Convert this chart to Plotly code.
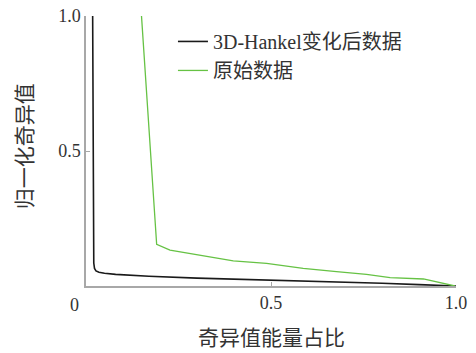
import plotly.graph_objects as go

# Normalized singular value curves against cumulative energy ratio
hankel_x = [0.018, 0.019, 0.020, 0.021, 0.023, 0.027, 0.035, 0.05, 0.08, 0.17, 0.30, 0.50, 0.70, 0.80, 0.90, 1.00]
hankel_y = [1.000, 0.500, 0.150, 0.085, 0.065, 0.056, 0.051, 0.047, 0.043, 0.036, 0.029, 0.022, 0.014, 0.010, 0.005, 0.000]

raw_x = [0.150, 0.191, 0.227, 0.335, 0.398, 0.488, 0.587, 0.677, 0.758, 0.822, 0.912, 0.997]
raw_y = [1.000, 0.154, 0.133, 0.106, 0.093, 0.084, 0.065, 0.053, 0.043, 0.031, 0.026, 0.000]

x_ticks = [0.5, 1.0]
x_tick_text = ["0.5", "1.0"]
y_ticks = [0.5, 1.0]
y_tick_text = ["0.5", "1.0"]

LATIN = "Liberation Serif"
FONT = "Liberation Serif, Noto Sans CJK SC"
AXIS_GRAY = "#a8a8a8"
TEXT = "#333333"

fig = go.Figure()
fig.add_trace(go.Scatter(x=hankel_x, y=hankel_y, mode="lines",
                         name="3D-Hankel变化后数据",
                         line=dict(color="#1a1a1a", width=1.6)))
fig.add_trace(go.Scatter(x=raw_x, y=raw_y, mode="lines",
                         name="原始数据",
                         line=dict(color="#66c244", width=1.3)))

axis_common = dict(range=[0, 1], showgrid=False, zeroline=False, showline=True,
                   linecolor=AXIS_GRAY, linewidth=1.5,
                   ticks="inside", ticklen=4, tickcolor=AXIS_GRAY,
                   tickfont=dict(family=LATIN, size=18, color=TEXT),
                   automargin=False)

fig.update_layout(
    width=476, height=353,
    margin=dict(l=86, r=20, t=16, b=67),
    plot_bgcolor="white", paper_bgcolor="white",
    font=dict(family=FONT, color=TEXT, size=17),
    showlegend=True,
    legend=dict(x=0.235, y=0.978, xanchor="left", yanchor="top",
                bgcolor="rgba(0,0,0,0)", font=dict(size=20, family=FONT),
                itemwidth=30),
    xaxis=dict(tickvals=x_ticks, ticktext=x_tick_text, **axis_common),
    yaxis=dict(tickvals=y_ticks, ticktext=y_tick_text, **axis_common),
)

# axis titles
fig.add_annotation(x=0.5, y=0, xref="paper", yref="paper", text="奇异值能量占比",
                   showarrow=False, xanchor="center", yanchor="middle", yshift=-52,
                   font=dict(size=21, family=FONT, color=TEXT))
fig.add_annotation(x=0, y=0.518, xref="paper", yref="paper", text="归一化奇异值",
                   showarrow=False, xanchor="center", yanchor="middle", xshift=-61,
                   textangle=-90, font=dict(size=21, family=FONT, color=TEXT))

# origin label placed below-left of the corner
fig.add_annotation(x=0, y=0, xref="x", yref="y", text="0", showarrow=False,
                   xshift=-12, yshift=-19,
                   font=dict(family=LATIN, size=18, color=TEXT))

fig.write_html("out.html")
